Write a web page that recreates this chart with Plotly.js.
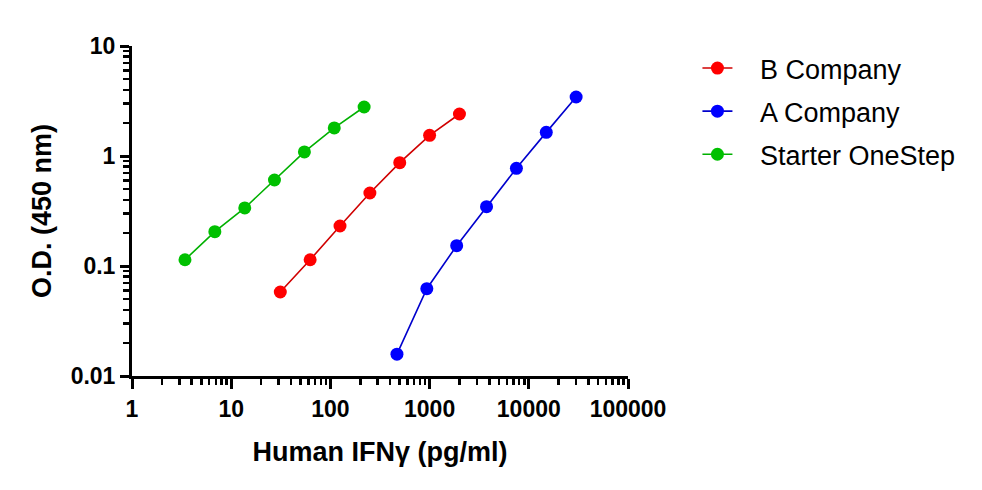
<!DOCTYPE html>
<html>
<head>
<meta charset="utf-8">
<script src="https://cdn.plot.ly/plotly-3.0.1.min.js"></script>
<style>html,body{margin:0;padding:0;background:#fff;}#chart{width:982px;height:490px;}</style>
</head>
<body>
<div id="chart"></div>
<script>
// Concentrations (pg/ml)
var bConc = [31.25, 62.5, 125, 250, 500, 1000, 2000];
var aConc = [468.75, 937.5, 1875, 3750, 7500, 15000, 30000];
var sConc = [3.42, 6.84, 13.7, 27.3, 54.7, 109.4, 218.75];
// O.D. (450 nm)
var bOD = [0.058, 0.114, 0.231, 0.461, 0.87, 1.54, 2.41];
var aOD = [0.0158, 0.0622, 0.153, 0.346, 0.773, 1.64, 3.44];
var sOD = [0.114, 0.205, 0.337, 0.605, 1.09, 1.80, 2.79];
// Series names
var seriesNames = ['B Company', 'A Company', 'Starter OneStep'];
// Tick labels
var xTickVals = [1, 10, 100, 1000, 10000, 100000];
var xTickText = ['1', '10', '100', '1000', '10000', '100000'];
var yTickVals = [0.01, 0.1, 1, 10];
var yTickText = ['0.01', '0.1', '1', '10'];

var pad = '\u00a0\u00a0\u00a0';
function trace(x, y, name, mc, lc, g) {
  return {
    x: x, y: y, name: pad + name, type: 'scatter', mode: 'lines+markers',
    legendgroup: g,
    marker: {color: mc, size: 13},
    line: {color: lc, width: 1.6}
  };
}
var data = [
  trace(bConc, bOD, seriesNames[0], '#FF0000', '#D00000', 'b'),
  trace(aConc, aOD, seriesNames[1], '#0000FF', '#0000CC', 'a'),
  trace(sConc, sOD, seriesNames[2], '#00C000', '#00B000', 's')
];

var tickFont = {family: 'Liberation Sans, Arial, sans-serif', size: 23, weight: 'bold', color: '#000'};
var titleFont = {family: 'Liberation Sans, Arial, sans-serif', size: 27, weight: 'bold', color: '#000'};

var layout = {
  width: 982, height: 490,
  margin: {l: 132, r: 354, t: 46, b: 114},
  paper_bgcolor: '#fff', plot_bgcolor: '#fff',
  showlegend: true,
  legend: {
    x: 1.14, xanchor: 'left', y: 1.006, yanchor: 'top',
    font: {family: 'Liberation Sans, Arial, sans-serif', size: 27, color: '#000'},
    tracegroupgap: 5, bgcolor: 'rgba(0,0,0,0)', borderwidth: 0
  },
  xaxis: {
    type: 'log', range: [0, 5],
    tickmode: 'array', tickvals: xTickVals, ticktext: xTickText,
    ticks: 'outside', ticklen: 10, tickwidth: 3, tickcolor: '#000',
    showline: true, linewidth: 3, linecolor: '#000',
    showgrid: false, zeroline: false,
    tickfont: tickFont,
    minor: {dtick: 'D1', ticks: 'outside', ticklen: 6, tickwidth: 2.5, tickcolor: '#000', showgrid: false},
    title: {text: 'Human IFN\u03b3 (pg/ml)', font: titleFont, standoff: 22}
  },
  yaxis: {
    type: 'log', range: [-2, 1],
    tickmode: 'array', tickvals: yTickVals, ticktext: yTickText,
    ticks: 'outside', ticklen: 9, tickwidth: 3, tickcolor: '#000',
    showline: true, linewidth: 3, linecolor: '#000',
    showgrid: false, zeroline: false,
    tickfont: tickFont,
    minor: {dtick: 'D1', ticks: 'outside', ticklen: 6, tickwidth: 2.5, tickcolor: '#000', showgrid: false},
    title: {text: 'O.D. (450 nm)', font: titleFont, standoff: 12}
  }
};

Plotly.newPlot('chart', data, layout, {displayModeBar: false, staticPlot: true});
</script>
</body>
</html>
